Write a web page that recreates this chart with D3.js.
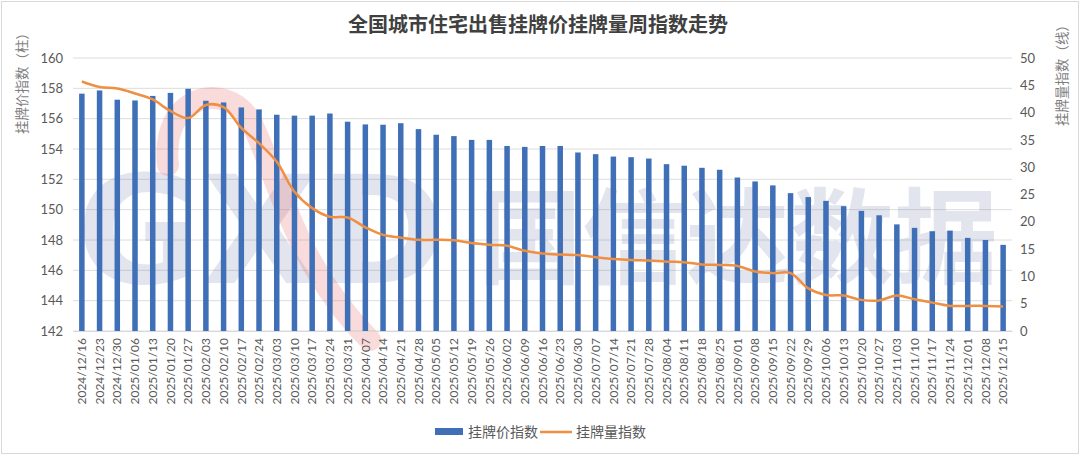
<!DOCTYPE html>
<html>
<head>
<meta charset="utf-8">
<style>
  body { margin: 0; background: #fff; }
  svg { display: block; }
</style>
</head>
<body>
<script src="https://d3js.org/d3.v7.min.js"></script>
<script>
  // weekly dates
  var dates = [
    "2024/12/16","2024/12/23","2024/12/30","2025/01/06","2025/01/13","2025/01/20","2025/01/27",
    "2025/02/03","2025/02/10","2025/02/17","2025/02/24","2025/03/03","2025/03/10","2025/03/17",
    "2025/03/24","2025/03/31","2025/04/07","2025/04/14","2025/04/21","2025/04/28","2025/05/05",
    "2025/05/12","2025/05/19","2025/05/26","2025/06/02","2025/06/09","2025/06/16","2025/06/23",
    "2025/06/30","2025/07/07","2025/07/14","2025/07/21","2025/07/28","2025/08/04","2025/08/11",
    "2025/08/18","2025/08/25","2025/09/01","2025/09/08","2025/09/15","2025/09/22","2025/09/29",
    "2025/10/06","2025/10/13","2025/10/20","2025/10/27","2025/11/03","2025/11/10","2025/11/17",
    "2025/11/24","2025/12/01","2025/12/08","2025/12/15"
  ];

  // 挂牌价指数 (bars, left axis)
  var priceIndex = [
    157.65, 157.86, 157.25, 157.2, 157.5, 157.7, 157.97, 157.18, 157.07, 156.74, 156.61,
    156.26, 156.2, 156.2, 156.34, 155.8, 155.62, 155.6, 155.7, 155.31, 154.94, 154.85,
    154.6, 154.6, 154.2, 154.14, 154.2, 154.2, 153.77, 153.66, 153.5, 153.46, 153.37,
    153.0, 152.9, 152.76, 152.63, 152.12, 151.86, 151.6, 151.09, 150.83, 150.58, 150.23,
    149.92, 149.63, 149.03, 148.8, 148.58, 148.62, 148.14, 148.0, 147.68
  ];

  // 挂牌量指数 (line, right axis)
  var volumeIndex = [
    45.7, 44.7, 44.4, 43.5, 42.4, 40.3, 39.0, 41.4, 41.0, 37.2, 34.4,
    31.0, 25.5, 22.5, 20.9, 20.8, 19.0, 17.6, 17.1, 16.7, 16.7, 16.6,
    16.1, 15.8, 15.6, 14.7, 14.2, 14.0, 13.9, 13.5, 13.2, 13.0, 12.9,
    12.7, 12.6, 12.2, 12.1, 11.9, 10.9, 10.6, 10.6, 7.8, 6.6, 6.5,
    5.7, 5.6, 6.5, 5.8, 5.2, 4.6, 4.6, 4.6, 4.5
  ];

  var leftTicks = [142, 144, 146, 148, 150, 152, 154, 156, 158, 160];
  var rightTicks = [0, 5, 10, 15, 20, 25, 30, 35, 40, 45, 50];

  var title = "全国城市住宅出售挂牌价挂牌量周指数走势";
  var leftTitle = "挂牌价指数（柱）";
  var rightTitle = "挂牌量指数（线）";
  var legendNames = ["挂牌价指数", "挂牌量指数"];

  var barColor = "#3f6fb6";
  var lineColor = "#ef8f42";
  var font = "Lato, 'Noto Sans CJK SC', sans-serif";
  var cjk = "'Noto Sans CJK SC', sans-serif";

  var width = 1080, height = 455;
  // plot area (window.top is read-only, so no bare "top")
  var plotL = 73, plotR = 1012, plotT = 58, plotB = 331;

  var svg = d3.select("body")
    .append("svg")
    .attr("width", width)
    .attr("height", height);

  // frame
  svg.append("rect")
    .attr("x", 1.5).attr("y", 1.5)
    .attr("width", width - 3).attr("height", height - 3)
    .attr("fill", "#fff")
    .attr("stroke", "#d9d9d9");

  let x = d3.scaleBand().domain(dates).range([plotL, plotR]).paddingInner(0.69).paddingOuter(0.345);
  let yL = d3.scaleLinear().domain([142, 160]).range([plotB, plotT]);
  let yR = d3.scaleLinear().domain([0, 50]).range([plotB, plotT]);

  // gridlines
  svg.append("g")
    .selectAll("line")
    .data(leftTicks)
    .enter()
  .append("line")
    .attr("x1", plotL).attr("x2", plotR)
    .attr("y1", d => yL(d)).attr("y2", d => yL(d))
    .attr("stroke", "#dcdcdc")
    .attr("stroke-width", 1);

  // watermark (kept inside the plot so it does not sit on the tick labels)
  var wm = svg.append("g").attr("pointer-events", "none");
  wm.append("text")
    .attr("x", 76).attr("y", 283)
    .attr("font-family", "'DejaVu Sans', sans-serif")
    .attr("font-weight", "bold")
    .attr("font-size", 150)
    .attr("textLength", 370)
    .attr("lengthAdjust", "spacingAndGlyphs")
    .attr("fill", "rgba(110,120,170,0.2)")
    .text("GXD");
  wm.append("text")
    .attr("x", 478).attr("y", 276)
    .attr("font-family", cjk)
    .attr("font-weight", "bold")
    .attr("font-size", 104)
    .attr("fill", "rgba(110,120,170,0.2)")
    .text("国信达数据");
  wm.append("path")
    .attr("d", "M168,165 C160,95 225,80 250,120 C275,165 290,260 370,340")
    .attr("fill", "none")
    .attr("stroke", "rgba(235,110,110,0.25)")
    .attr("stroke-width", 22)
    .attr("stroke-linecap", "round");

  // bars
  svg.append("g")
    .selectAll("rect")
    .data(priceIndex)
    .enter()
  .append("rect")
    .attr("x", (d, i) => x(dates[i]))
    .attr("y", d => yL(d))
    .attr("width", x.bandwidth())
    .attr("height", d => yL(142) - yL(d))
    .attr("fill", barColor);

  // line
  let line = d3.line()
    .x((d, i) => x(dates[i]) + x.bandwidth() / 2)
    .y(d => yR(d))
    .curve(d3.curveCatmullRom.alpha(0.5));

  svg.append("path")
    .datum(volumeIndex)
    .attr("d", line)
    .attr("fill", "none")
    .attr("stroke", lineColor)
    .attr("stroke-width", 2.5)
    .attr("stroke-linejoin", "round");

  // left axis
  let axisL = svg.append("g")
    .attr("transform", "translate(" + plotL + ",0)")
    .call(d3.axisLeft(yL).tickValues(leftTicks).tickSize(0).tickPadding(10));
  axisL.select(".domain").remove();
  axisL.selectAll("text")
    .attr("font-family", font).attr("font-size", 13).attr("fill", "#595959");

  // right axis
  let axisR = svg.append("g")
    .attr("transform", "translate(" + plotR + ",0)")
    .call(d3.axisRight(yR).tickValues(rightTicks).tickSize(0).tickPadding(8));
  axisR.select(".domain").remove();
  axisR.selectAll("text")
    .attr("font-family", font).attr("font-size", 13).attr("fill", "#595959");

  // bottom axis
  let axisB = svg.append("g")
    .attr("transform", "translate(0," + plotB + ")")
    .call(d3.axisBottom(x).tickSize(0));
  axisB.select(".domain").attr("stroke", "#d9d9d9");
  axisB.selectAll("text")
    .attr("font-family", font).attr("font-size", 12).attr("fill", "#595959")
    .attr("transform", "rotate(-90)")
    .attr("text-anchor", "end")
    .attr("x", -7).attr("y", 0).attr("dy", "0.35em");

  // axis titles
  svg.append("text")
    .attr("transform", "translate(22,80) rotate(-90)")
    .attr("text-anchor", "middle").attr("dy", "0.35em")
    .attr("font-family", cjk).attr("font-size", 13.5).attr("fill", "#7f7f7f")
    .text(leftTitle);

  svg.append("text")
    .attr("transform", "translate(1062,72) rotate(-90)")
    .attr("text-anchor", "middle").attr("dy", "0.35em")
    .attr("font-family", cjk).attr("font-size", 13.5).attr("fill", "#7f7f7f")
    .text(rightTitle);

  // title
  svg.append("text")
    .attr("x", 538).attr("y", 25)
    .attr("text-anchor", "middle").attr("dy", "0.35em")
    .attr("font-family", cjk).attr("font-size", 20).attr("font-weight", "bold")
    .attr("fill", "#404040")
    .text(title);

  // legend
  let lg = svg.append("g");
  lg.append("rect")
    .attr("x", 435).attr("y", 428).attr("width", 28).attr("height", 7)
    .attr("fill", barColor);
  lg.append("text")
    .attr("x", 468).attr("y", 432).attr("dy", "0.35em")
    .attr("font-family", cjk).attr("font-size", 14).attr("fill", "#595959")
    .text(legendNames[0]);
  lg.append("line")
    .attr("x1", 540).attr("x2", 572).attr("y1", 432).attr("y2", 432)
    .attr("stroke", lineColor).attr("stroke-width", 2.5);
  lg.append("text")
    .attr("x", 576).attr("y", 432).attr("dy", "0.35em")
    .attr("font-family", cjk).attr("font-size", 14).attr("fill", "#595959")
    .text(legendNames[1]);
</script>
</body>
</html>
